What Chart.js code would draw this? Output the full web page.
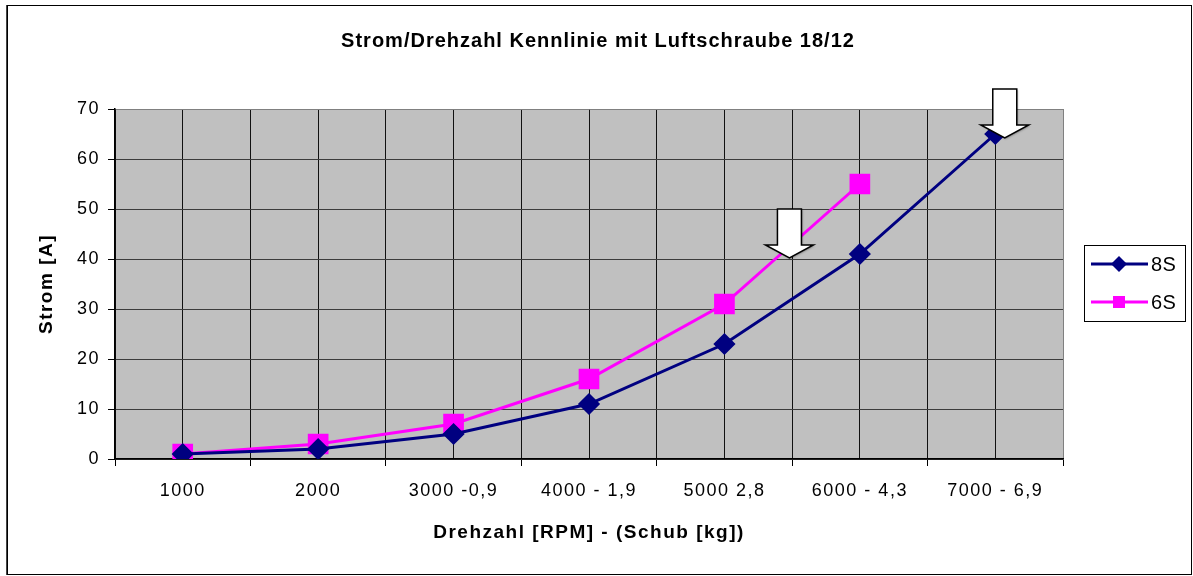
<!DOCTYPE html>
<html>
<head>
<meta charset="utf-8">
<script src="https://cdn.jsdelivr.net/npm/chart.js@4"></script>
<style>
  html, body { margin: 0; padding: 0; background: #fff; }
  #wrap { width: 1193px; height: 576px; position: relative; }
</style>
</head>
<body>
<div id="wrap"><canvas id="chart" width="1193" height="576"></canvas></div>
<script>
/* ================= DATA ================= */

const chartTitle = "Strom/Drehzahl Kennlinie mit Luftschraube 18/12";
const xTitle = "Drehzahl [RPM] - (Schub [kg])";
const yTitle = "Strom [A]";

const categories = ["1000", "2000", "3000 -0,9", "4000 - 1,9", "5000 2,8", "6000 - 4,3", "7000 - 6,9"];
const seriesNames = ["8S", "6S"];
const strom8S = [1, 2, 5, 11, 23, 41, 65];
const strom6S = [1, 3, 7, 16, 31, 55, null];
const yTicks = [0, 10, 20, 30, 40, 50, 60, 70];

/* arrows: [x position in category units, y value of the tip] */
const arrowMarks = [[5.48, 40.2], [7.07, 64.2]];

/* ================= HELPERS ================= */

const FONT = "'Liberation Sans', Arial, sans-serif";

// points on a linear x axis: category i sits at x = i + 1
const toPoints = vals => vals.map((v, i) => ({ x: i + 1, y: v }));

function drawArrow(ctx, x, tipY) {
  const shaftW = 12, headW = 24, headH = 13, total = 49;
  const top = tipY - total;
  ctx.save();
  ctx.shadowColor = "rgba(0,0,0,0.35)";
  ctx.shadowOffsetX = 1;
  ctx.shadowOffsetY = 1;
  ctx.shadowBlur = 2;
  ctx.beginPath();
  ctx.moveTo(x - shaftW, top);
  ctx.lineTo(x + shaftW, top);
  ctx.lineTo(x + shaftW, tipY - headH);
  ctx.lineTo(x + headW, tipY - headH);
  ctx.lineTo(x, tipY);
  ctx.lineTo(x - headW, tipY - headH);
  ctx.lineTo(x - shaftW, tipY - headH);
  ctx.closePath();
  ctx.fillStyle = "#fff";
  ctx.fill();
  ctx.restore();
  ctx.save();
  ctx.lineWidth = 1.5;
  ctx.strokeStyle = "#000";
  ctx.lineJoin = "miter";
  ctx.stroke();
  ctx.restore();
}

/* ================= PLUGIN ================= */

const excelLook = {
  id: "excelLook",
  beforeDraw(chart) {
    const { ctx, chartArea: a } = chart;
    ctx.save();
    ctx.fillStyle = "#c0c0c0";
    ctx.fillRect(a.left, a.top, a.right - a.left, a.bottom - a.top);
    ctx.restore();
    ctx.letterSpacing = "1.5px";
  },
  afterDraw(chart) {
    const { ctx, scales } = chart;

    // arrows
    arrowMarks.forEach(([xv, yv]) => {
      drawArrow(ctx, scales.x.getPixelForValue(xv), scales.y.getPixelForValue(yv));
    });

    // title
    ctx.save();
    ctx.letterSpacing = "1px";
    ctx.fillStyle = "#000";
    ctx.font = "bold 20px " + FONT;
    ctx.textAlign = "center";
    ctx.textBaseline = "middle";
    ctx.fillText(chartTitle, 598, 41);
    ctx.restore();

    // legend
    ctx.save();
    ctx.strokeStyle = "#000";
    ctx.lineWidth = 1;
    ctx.strokeRect(1084.5, 245.5, 101, 76);
    ctx.letterSpacing = "0.5px";
    ctx.font = "20px " + FONT;
    ctx.textBaseline = "middle";
    chart.data.datasets.forEach((ds, i) => {
      const y = 264 + i * 38;
      ctx.strokeStyle = ds.borderColor;
      ctx.lineWidth = 3;
      ctx.beginPath();
      ctx.moveTo(1091, y);
      ctx.lineTo(1148, y);
      ctx.stroke();
      ctx.fillStyle = ds.pointBackgroundColor;
      if (ds.pointStyle === "rectRot") {
        ctx.beginPath();
        ctx.moveTo(1119 - 8, y);
        ctx.lineTo(1119, y - 8);
        ctx.lineTo(1119 + 8, y);
        ctx.lineTo(1119, y + 8);
        ctx.closePath();
        ctx.fill();
      } else {
        ctx.fillRect(1113, y - 6, 12, 12);
      }
      ctx.fillStyle = "#000";
      ctx.fillText(ds.label, 1151, y + 1);
    });
    ctx.restore();

    // outer frame
    ctx.save();
    ctx.strokeStyle = "#000";
    ctx.lineWidth = 1;
    ctx.strokeRect(7.5, 5.5, 1184, 569);
    ctx.strokeStyle = "#444";
    ctx.beginPath();
    ctx.moveTo(6.5, 5);
    ctx.lineTo(6.5, 575);
    ctx.stroke();
    ctx.restore();
  }
};

/* ================= CHART ================= */

new Chart(document.getElementById("chart"), {
  type: "line",
  data: {
    datasets: [
      {
        label: seriesNames[0],
        data: toPoints(strom8S),
        borderColor: "#000080",
        backgroundColor: "#000080",
        pointBackgroundColor: "#000080",
        pointBorderColor: "#000080",
        pointStyle: "rectRot",
        pointRadius: 9,
        pointHoverRadius: 9,
        borderWidth: 3,
        tension: 0
      },
      {
        label: seriesNames[1],
        data: toPoints(strom6S),
        borderColor: "#ff00ff",
        backgroundColor: "#ff00ff",
        pointBackgroundColor: "#ff00ff",
        pointBorderColor: "#ff00ff",
        pointStyle: "rect",
        pointRadius: 12.5,
        pointHoverRadius: 12.5,
        borderWidth: 3,
        tension: 0
      }
    ]
  },
  options: {
    responsive: false,
    animation: false,
    layout: { padding: { left: 0, right: 130, top: 109, bottom: 0 } },
    plugins: {
      legend: { display: false },
      title: { display: false },
      tooltip: { enabled: false }
    },
    scales: {
      x: {
        type: "linear",
        min: 0.5,
        max: categories.length + 0.5,
        afterFit: s => { s.height = 117; },
        afterBuildTicks: s => {
          s.ticks = [];
          for (let v = 0.5; v <= categories.length + 0.5; v += 0.5) s.ticks.push({ value: v });
        },
        grid: {
          color: c => (c.tick && c.tick.value === categories.length + 0.5) ? "#808080" : "#111",
          lineWidth: 1,
          tickLength: 7,
          tickColor: c => (c.tick && Number.isInteger(c.tick.value)) ? "rgba(0,0,0,0)" : "#000"
        },
        border: { color: "#000", width: 1.5 },
        ticks: {
          autoSkip: false,
          maxRotation: 0,
          padding: 14,
          color: "#000",
          font: { family: FONT, size: 18 },
          callback: v => Number.isInteger(v) ? categories[v - 1] : ""
        },
        title: {
          display: true,
          text: xTitle,
          color: "#000",
          font: { family: FONT, size: 19, weight: "bold" },
          padding: { top: 0, bottom: 32 }
        }
      },
      y: {
        min: 0,
        max: 70,
        afterFit: s => { s.width = 115; },
        afterBuildTicks: s => { s.ticks = yTicks.map(v => ({ value: v })); },
        grid: {
          color: c => (c.tick && c.tick.value === 70) ? "#808080" : "#3c3c3c",
          lineWidth: 1,
          tickLength: 7,
          tickColor: "#000"
        },
        border: { color: "#000", width: 1.5 },
        ticks: {
          padding: 8,
          color: "#000",
          font: { family: FONT, size: 18 }
        },
        title: {
          display: true,
          text: yTitle,
          color: "#000",
          font: { family: FONT, size: 19, weight: "bold" },
          padding: { top: 35, bottom: 0 }
        }
      }
    }
  },
  plugins: [excelLook]
});
</script>
</body>
</html>
